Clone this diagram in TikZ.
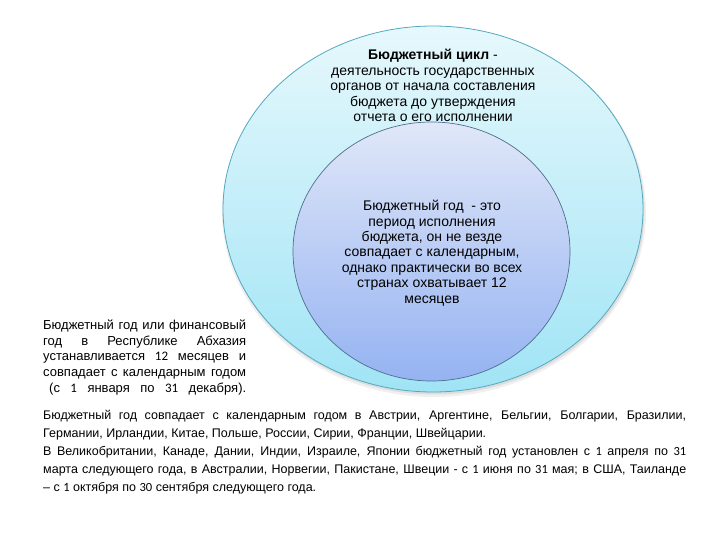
\documentclass[tikz,border=0pt]{standalone}
\usepackage{fontspec}
\setmainfont{Liberation Sans}
\newfontfamily\numfont{Carlito}
\usetikzlibrary{shapes.geometric}
\definecolor{outerTop}{HTML}{E6F8FC}
\definecolor{outerBot}{HTML}{A0E4F5}
\definecolor{outerEdge}{HTML}{55A9BE}
\definecolor{innerTop}{HTML}{E0E7F8}
\definecolor{innerBot}{HTML}{95B3F2}
\definecolor{innerEdge}{HTML}{4F6E8E}
\tikzset{
  circtxt/.style={font=\fontsize{14}{15.4}\selectfont, align=center, inner sep=0pt},
  lefttxt/.style={font=\fontsize{13}{15.8}\selectfont, align=justify, text width=203pt, inner sep=0pt, anchor=north west},
  bottxt/.style={font=\fontsize{12.5}{18}\selectfont, align=justify, text width=643pt, inner sep=0pt, anchor=north west},
  bigell/.style={ellipse, draw=outerEdge, line width=0.8pt, top color=outerTop, bottom color=outerBot, inner sep=0pt},
  smallell/.style={ellipse, draw=innerEdge, line width=0.7pt, top color=innerTop, bottom color=innerBot, inner sep=0pt},
}
\begin{document}
\begin{tikzpicture}[x=1pt,y=-1pt]
\useasboundingbox (0,0) rectangle (720,540);
\fill[black, opacity=0.06] (434,212) ellipse [x radius=212, y radius=185];
\fill[black, opacity=0.08] (434,211) ellipse [x radius=210.5, y radius=183.5];
\node[bigell, minimum width=420pt, minimum height=366pt] (outer) at (433,209) {};
\node[smallell, minimum width=277pt, minimum height=259pt] (inner) at (431.5,251.5) {};
\node[circtxt] (cycle) at (433,85.5) {\textbf{Бюджетный цикл} -\\деятельность государственных\\органов от начала составления\\бюджета до утверждения\\отчета о его исполнении};
\node[circtxt] (year) at (432,253) {Бюджетный год~ - это\\период исполнения\\бюджета, он не везде\\совпадает с календарным,\\однако практически во всех\\странах охватывает 12\\месяцев};
\node[lefttxt] (abkh) at (43,319.5) {\parindent=0pt Бюджетный год или финансовый\linebreak год в Республике Абхазия\linebreak устанавливается {\numfont 12} месяцев и\linebreak совпадает с календарным годом\linebreak \hspace*{6pt}(с\hfill{\numfont 1}\hfill января\hfill по\hfill{\numfont 31}\hfill декабря).};
\node[bottxt] (world) at (43,410.5) {\parindent=0pt Бюджетный год совпадает с календарным годом в Австрии, Аргентине, Бельгии, Болгарии, Бразилии,\linebreak Германии, Ирландии, Китае, Польше, России, Сирии, Франции, Швейцарии.\par В Великобритании, Канаде, Дании, Индии, Израиле, Японии бюджетный год установлен с {\numfont 1} апреля по {\numfont 31}\linebreak марта следующего года, в Австралии, Норвегии, Пакистане, Швеции - с {\numfont 1} июня по {\numfont 31} мая; в США, Таиланде\linebreak – с {\numfont 1} октября по {\numfont 30} сентября следующего года.};
\end{tikzpicture}
\end{document}
